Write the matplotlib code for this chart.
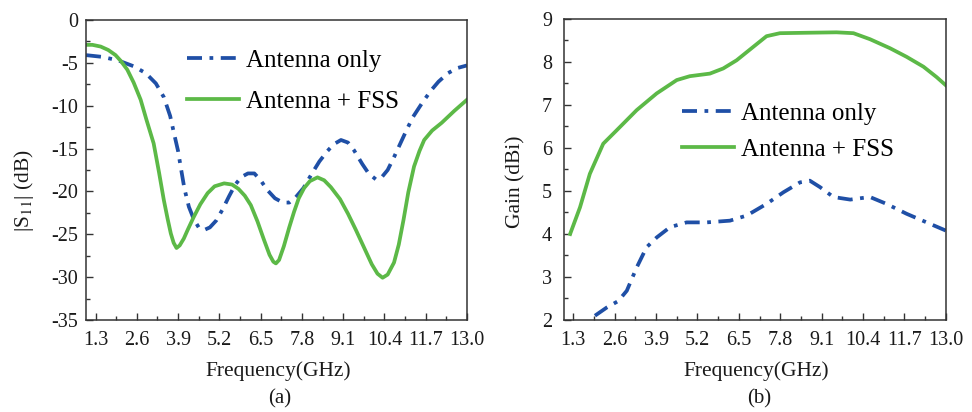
import numpy as np
import matplotlib.pyplot as plt
from matplotlib.ticker import MultipleLocator, FixedLocator

plt.rcParams['font.family'] = ['Liberation Serif', 'DejaVu Serif']
plt.rcParams['mathtext.fontset'] = 'stix'
plt.rcParams['axes.unicode_minus'] = False

# |S11| of the antenna alone (GHz, dB)
s11_only_f = [1.0, 1.5, 2.0, 2.5, 2.88, 3.2, 3.45, 3.65, 3.77, 3.9, 3.98, 4.1, 4.24, 4.4,
              4.55, 4.72, 4.9, 5.1, 5.3, 5.5, 5.7, 5.9, 6.1, 6.3, 6.5, 6.7, 6.95, 7.2, 7.4,
              7.6, 7.85, 8.1, 8.35, 8.6, 8.8, 9.03, 9.25, 9.44, 9.7, 9.9, 10.13, 10.3,
              10.5, 10.7, 10.9, 11.1, 11.3, 11.6, 11.87, 12.1, 12.4, 12.7, 13.0]
s11_only_db = [-4.1, -4.3, -4.7, -5.4, -6.2, -7.4, -9.0, -11.2, -13.2, -15.3, -17.1, -19.7,
               -21.8, -23.3, -24.2, -24.5, -24.2, -23.4, -22.1, -20.6, -19.2, -18.3, -17.9,
               -17.9, -18.7, -19.8, -20.8, -21.3, -21.3, -20.7, -19.6, -18.0, -16.5, -15.3,
               -14.5, -14.0, -14.3, -15.2, -16.8, -17.9, -18.6, -18.4, -17.5, -16.0, -14.4,
               -12.8, -11.3, -9.6, -8.2, -7.2, -6.2, -5.6, -5.3]

# |S11| of the antenna with the FSS reflector
s11_fss_f = [1.0, 1.2, 1.46, 1.7, 1.93, 2.1, 2.3, 2.5, 2.72, 2.9, 3.13, 3.3, 3.45, 3.57,
             3.67, 3.76, 3.85, 3.95, 4.08, 4.2, 4.39, 4.6, 4.83, 5.05, 5.35, 5.6, 5.8,
             6.0, 6.19, 6.4, 6.6, 6.78, 6.9, 6.98, 7.08, 7.23, 7.4, 7.55, 7.7, 7.87, 8.05,
             8.29, 8.5, 8.71, 9.0, 9.25, 9.5, 9.75, 10.0, 10.18, 10.34, 10.5, 10.7, 10.85,
             11.0, 11.15, 11.33, 11.5, 11.65, 11.9, 12.2, 12.6, 13.0]
s11_fss_db = [-2.9, -2.9, -3.1, -3.5, -4.1, -4.8, -5.8, -7.3, -9.3, -11.6, -14.4, -17.8,
              -21.0, -23.2, -24.9, -26.0, -26.6, -26.3, -25.5, -24.5, -23.0, -21.5, -20.2,
              -19.4, -19.06, -19.2, -19.7, -20.5, -21.6, -23.5, -25.6, -27.4, -28.2, -28.4,
              -28.0, -26.4, -24.2, -22.4, -20.8, -19.6, -18.8, -18.36, -18.7, -19.5, -20.9,
              -22.6, -24.5, -26.5, -28.5, -29.6, -30.07, -29.7, -28.3, -26.2, -23.3, -20.1,
              -17.1, -15.3, -14.0, -12.9, -12.0, -10.6, -9.3]

# Gain of the antenna alone (GHz, dBi)
gain_only_f = [1.98, 2.35, 2.71, 2.98, 3.29, 3.6, 3.92, 4.34, 4.86, 5.49, 6.22, 6.75, 7.37,
               7.9, 8.42, 8.73, 9.05, 9.47, 10.0, 10.3, 10.62, 11.14, 11.77, 12.4, 13.0]
gain_only_dbi = [2.1, 2.29, 2.44, 2.68, 3.22, 3.69, 3.92, 4.16, 4.27, 4.27, 4.31, 4.43, 4.7,
                 4.97, 5.2, 5.24, 5.09, 4.86, 4.8, 4.83, 4.86, 4.7, 4.47, 4.27, 4.08]

# Gain of the antenna with the FSS reflector
gain_fss_f = [1.2, 1.51, 1.82, 2.24, 2.66, 3.29, 3.92, 4.55, 4.96, 5.59, 6.01, 6.43, 6.95,
              7.37, 7.79, 8.63, 9.57, 10.1, 10.62, 11.25, 11.77, 12.3, 12.71, 13.0]
gain_fss_dbi = [4.0, 4.62, 5.4, 6.1, 6.41, 6.88, 7.27, 7.58, 7.67, 7.73, 7.85, 8.04, 8.35,
                8.6, 8.67, 8.68, 8.69, 8.67, 8.53, 8.32, 8.12, 7.89, 7.65, 7.46]

freq_ticks = [1.3, 2.6, 3.9, 5.2, 6.5, 7.8, 9.1, 10.4, 11.7, 13.0]
freq_minor = [1.95, 3.25, 4.55, 5.85, 7.15, 8.45, 9.75, 11.05, 12.35]

blue = '#1f4fa6'
green = '#5cb947'
spine = '#333333'
ink = '#1a1a1a'
dash_dot = [4, 2, 1, 2]

fig = plt.figure(figsize=(9.72, 4.12), dpi=100)
ax1 = fig.add_axes([0.0885, 0.2233, 0.392, 0.7282])
ax2 = fig.add_axes([0.580, 0.2233, 0.393, 0.7306])


def style_axes(ax, ypad):
    ax.set_xlim(1.0, 13.0)
    ax.xaxis.set_major_locator(FixedLocator(freq_ticks))
    ax.xaxis.set_minor_locator(FixedLocator(freq_minor))
    ax.set_xticklabels([f'{t:.1f}' for t in freq_ticks])
    ax.tick_params(which='both', direction='in', top=False, right=False,
                   color=spine, labelsize=14.5, labelcolor=ink)
    ax.tick_params(which='major', length=5, width=1)
    ax.tick_params(which='minor', length=3, width=1)
    ax.tick_params(axis='x', pad=8)
    ax.tick_params(axis='y', pad=ypad)
    for s in ax.spines.values():
        s.set_color(spine)
        s.set_linewidth(1.1)
    ax.set_xlabel('Frequency(GHz)', fontsize=15.5, color=ink)
    ax.xaxis.set_label_coords(0.505, -0.137)


# (a) reflection coefficient
ax1.plot(s11_only_f, s11_only_db, color=blue, lw=2.7, dashes=dash_dot, label='Antenna only')
ax1.plot(s11_fss_f, s11_fss_db, color=green, lw=2.7, label='Antenna + FSS')
style_axes(ax1, 5.5)
ax1.set_ylim(-35, 0)
ax1.yaxis.set_major_locator(MultipleLocator(5))
ax1.yaxis.set_minor_locator(MultipleLocator(2.5))
ax1.set_ylabel(r'|S$_{11}$| (dB)', fontsize=15.5, color=ink)
ax1.yaxis.set_label_coords(-0.13, 0.43)
ax1.legend(loc='upper left', bbox_to_anchor=(0.265, 0.903), frameon=False, fontsize=18,
           handlelength=2.1, handletextpad=0.28, labelspacing=0.76, borderpad=0,
           borderaxespad=0)

# (b) realised gain
ax2.plot(gain_only_f, gain_only_dbi, color=blue, lw=2.7, dashes=dash_dot, label='Antenna only')
ax2.plot(gain_fss_f, gain_fss_dbi, color=green, lw=2.7, label='Antenna + FSS')
style_axes(ax2, 8.5)
ax2.set_ylim(2, 9)
ax2.yaxis.set_major_locator(MultipleLocator(1))
ax2.yaxis.set_minor_locator(MultipleLocator(0.5))
ax2.set_ylabel('Gain (dBi)', fontsize=15.5, color=ink)
ax2.yaxis.set_label_coords(-0.10, 0.46)
ax2.legend(loc='upper left', bbox_to_anchor=(0.309, 0.724), frameon=False, fontsize=18,
           handlelength=2.1, handletextpad=0.28, labelspacing=0.56, borderpad=0,
           borderaxespad=0)

fig.text(0.288, 0.02, '(a)', ha='center', fontsize=15, color=ink)
fig.text(0.781, 0.02, '(b)', ha='center', fontsize=15, color=ink)

fig.savefig('out.png', dpi=100)
